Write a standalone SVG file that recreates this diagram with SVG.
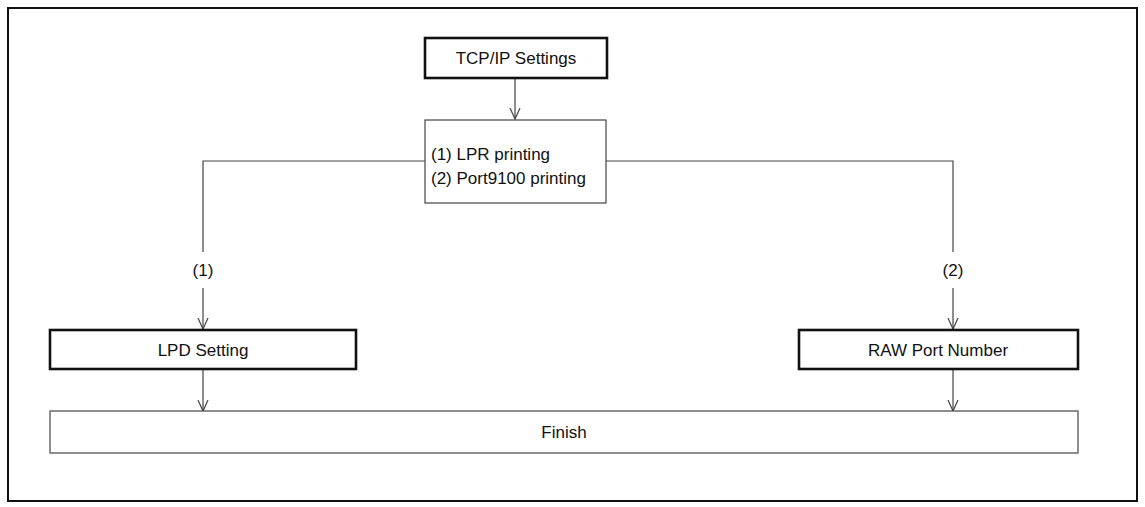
<svg xmlns="http://www.w3.org/2000/svg" width="1145" height="507" viewBox="0 0 1145 507">
<style>
text{font-family:"Liberation Sans",Arial,sans-serif;font-size:17px;fill:#111}
.thick{fill:#fff;stroke:#111;stroke-width:2.6}
.thin{fill:#fff;stroke:#444;stroke-width:1.2}
.c{fill:none;stroke:#444;stroke-width:1.2}
</style>
<defs><marker id="a" markerWidth="12" markerHeight="12" refX="11" refY="6" orient="auto" markerUnits="userSpaceOnUse" viewBox="0 0 12 12"><path d="M0,1 L11,6 L0,11" fill="none" stroke="#444" stroke-width="1.2"/></marker></defs>
<rect x="8" y="8" width="1129" height="493" fill="#fff" stroke="#111" stroke-width="2"/>
<g id="connectors">
<path class="c" d="M515,79 V119" marker-end="url(#a)"/>
<path class="c" d="M425,161 H203 V252"/>
<path class="c" d="M203,288 V329" marker-end="url(#a)"/>
<path class="c" d="M606,161 H953 V252"/>
<path class="c" d="M953,288 V329" marker-end="url(#a)"/>
<path class="c" d="M203,370 V411" marker-end="url(#a)"/>
<path class="c" d="M953,370 V411" marker-end="url(#a)"/>
<text x="203" y="276" text-anchor="middle">(1)</text>
<text x="953" y="276" text-anchor="middle">(2)</text>
</g>
<g id="tcpip"><rect class="thick" x="425" y="38" width="182" height="40"/><text x="516" y="64" text-anchor="middle">TCP/IP Settings</text></g>
<g id="choice"><rect class="thin" x="425" y="120" width="181" height="83"/><text x="431" y="160">(1) LPR printing</text><text x="431" y="184">(2) Port9100 printing</text></g>
<g id="lpd"><rect class="thick" x="50" y="330" width="306" height="39"/><text x="203" y="356" text-anchor="middle">LPD Setting</text></g>
<g id="raw"><rect class="thick" x="799" y="330" width="279" height="39"/><text x="938" y="356" text-anchor="middle">RAW Port Number</text></g>
<g id="finish"><rect class="thin" x="50" y="411" width="1028" height="42"/><text x="564" y="438" text-anchor="middle">Finish</text></g>
</svg>
